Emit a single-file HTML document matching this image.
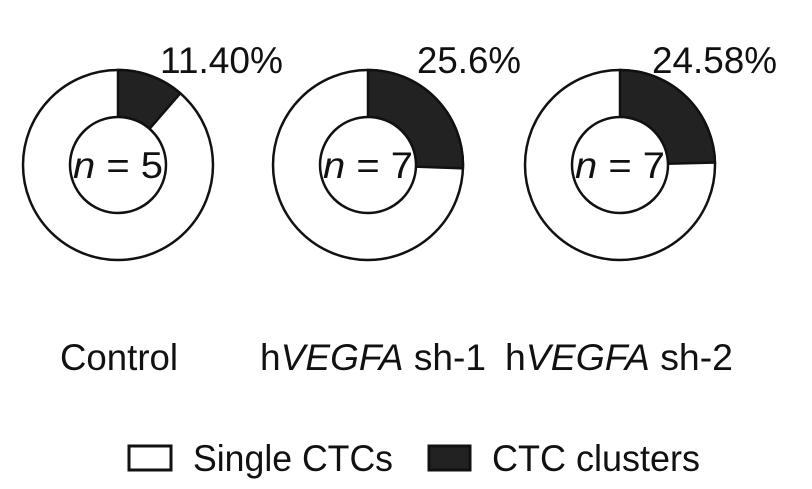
<!DOCTYPE html>
<html><head><meta charset="utf-8"><style>
html,body{margin:0;padding:0;background:#fff;}
svg{display:block;}
text{font-family:"Liberation Sans",Arial,sans-serif;fill:#111;}
</style></head><body>
<svg width="812" height="489" viewBox="0 0 812 489" xmlns="http://www.w3.org/2000/svg">
<g stroke="#111" stroke-width="2.5" fill="#fff">
  <circle cx="118" cy="165" r="95"/>
  <path d="M118,70 A95,95 0 0,1 180.3,93.3 L149.5,128.8 A48,48 0 0,0 118,117 Z" fill="#222"/>
  <circle cx="118" cy="165" r="48"/>
  <circle cx="368" cy="165" r="95"/>
  <path d="M368,70 A95,95 0 0,1 462.9,168.3 L416,166.7 A48,48 0 0,0 368,117 Z" fill="#222"/>
  <circle cx="368" cy="165" r="48"/>
  <circle cx="620" cy="165" r="95"/>
  <path d="M620,70 A95,95 0 0,1 715,162.5 L668,163.7 A48,48 0 0,0 620,117 Z" fill="#222"/>
  <circle cx="620" cy="165" r="48"/>
</g>
<g font-size="37">
  <text x="160" y="73" textLength="123" lengthAdjust="spacingAndGlyphs">11.40%</text>
  <text x="417" y="73" textLength="104" lengthAdjust="spacingAndGlyphs">25.6%</text>
  <text x="652" y="73" textLength="125" lengthAdjust="spacingAndGlyphs">24.58%</text>
  <text x="73" y="178" textLength="90" lengthAdjust="spacingAndGlyphs"><tspan font-style="italic">n</tspan> = 5</text>
  <text x="323" y="178" textLength="90" lengthAdjust="spacingAndGlyphs"><tspan font-style="italic">n</tspan> = 7</text>
  <text x="575" y="178" textLength="90" lengthAdjust="spacingAndGlyphs"><tspan font-style="italic">n</tspan> = 7</text>
  <text x="60" y="370" textLength="118" lengthAdjust="spacingAndGlyphs">Control</text>
  <text x="260" y="370" textLength="226" lengthAdjust="spacingAndGlyphs">h<tspan font-style="italic">VEGFA</tspan> sh-1</text>
  <text x="505" y="370" textLength="228" lengthAdjust="spacingAndGlyphs">h<tspan font-style="italic">VEGFA</tspan> sh-2</text>
  <text x="193" y="471" textLength="200" lengthAdjust="spacingAndGlyphs">Single CTCs</text>
  <text x="492" y="471" textLength="208" lengthAdjust="spacingAndGlyphs">CTC clusters</text>
</g>
<rect x="129" y="446" width="42" height="24" fill="#fff" stroke="#111" stroke-width="3"/>
<rect x="429" y="446" width="41" height="24" fill="#222" stroke="#111" stroke-width="3"/>
</svg>
</body></html>
